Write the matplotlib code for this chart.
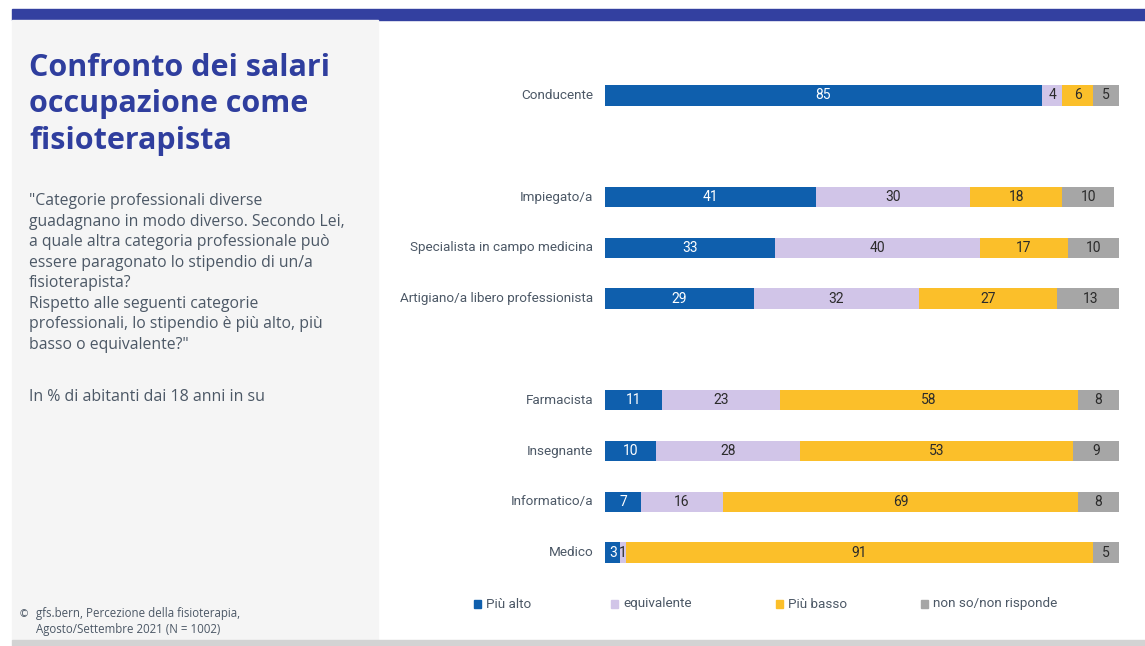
import numpy as np
import matplotlib
matplotlib.use("Agg")
import matplotlib.pyplot as plt
from matplotlib.patches import Rectangle

# survey shares in %
categories = ["Conducente", "Impiegato/a", "Specialista in campo medicina",
              "Artigiano/a libero professionista", "Farmacista", "Insegnante",
              "Informatico/a", "Medico"]
slots = [0, 2, 3, 4, 6, 7, 8, 9]
piu_alto = [85, 41, 33, 29, 11, 10, 7, 3]
equivalente = [4, 30, 40, 32, 23, 28, 16, 1]
piu_basso = [6, 18, 17, 27, 58, 53, 69, 91]
non_so = [5, 10, 10, 13, 8, 9, 8, 5]
series_names = ["Più alto", "equivalente", "Più basso", "non so/non risponde"]
colors = ["#0f5fad", "#d1c5e8", "#fbbf2a", "#a6a6a6"]
text_colors = ["white", "#2b2b2b", "#2b2b2b", "#2b2b2b"]

W, H = 1145, 646
fig = plt.figure(figsize=(W / 100, H / 100), dpi=100)
fig.patch.set_facecolor("white")

def fx(px):
    return px / W

def fy(py):
    return 1 - py / H

# frame: blue band, grey side panel, bottom rule
fig.patches.append(Rectangle((fx(12), fy(20)), fx(1145 - 12), 11 / H,
                             transform=fig.transFigure, color="#3340a0", zorder=0))
fig.patches.append(Rectangle((fx(12), fy(640)), fx(378 - 12), 620 / H,
                             transform=fig.transFigure, color="#f5f5f5", zorder=0))
fig.patches.append(Rectangle((fx(12), 0), fx(1145 - 12), 6 / H,
                             transform=fig.transFigure, color="#d3d3d3", zorder=0))

label_font = ["Roboto", "DejaVu Sans"]
txt_col = "#4c5866"

fig.text(fx(29), fy(53), "Confronto dei salari\noccupazione come\nfisioterapista",
         ha="left", va="top", fontsize=22, fontweight="bold", color="#2f3e9e",
         family="Open Sans", linespacing=1.28)

question = ('"Categorie professionali diverse\n'
            'guadagnano in modo diverso. Secondo Lei,\n'
            'a quale altra categoria professionale può\n'
            'essere paragonato lo stipendio di un/a\n'
            'fisioterapista?\n'
            'Rispetto alle seguenti categorie\n'
            'professionali, lo stipendio è più alto, più\n'
            'basso o equivalente?"')
fig.text(fx(29), fy(193), question, ha="left", va="top", fontsize=11.3,
         color=txt_col, family="Open Sans", linespacing=1.38)
fig.text(fx(29), fy(397), "In % di abitanti dai 18 anni in su", ha="left",
         va="center", fontsize=11.5, color=txt_col, family="Open Sans")
fig.text(fx(19), fy(614), "©", ha="left", va="center", fontsize=7.5,
         color=txt_col, family="DejaVu Sans")
fig.text(fx(36), fy(607), "gfs.bern, Percezione della fisioterapia,\nAgosto/Settembre 2021 (N = 1002)",
         ha="left", va="top", fontsize=8.3, color=txt_col, family="Open Sans",
         linespacing=1.25)

# stacked bars
ax = fig.add_axes([fx(605), fy(578), fx(1119 - 605), 508 / H])
ax.set_xlim(0, 100)
ax.set_ylim(9.5, -0.5)
ax.axis("off")

data = np.array([piu_alto, equivalente, piu_basso, non_so])
left = np.zeros(len(categories))
for vals, c, tc in zip(data, colors, text_colors):
    ax.barh(slots, vals, left=left, height=0.4, color=c, edgecolor="none")
    for y, l, v in zip(slots, left, vals):
        ax.text(l + v / 2, y, str(v), ha="center", va="center", fontsize=10,
                color=tc, family=label_font)
    left += vals

for y, name in zip(slots, categories):
    ax.text(-2.3, y, name, ha="right", va="center", fontsize=9.7,
            color=txt_col, family=label_font)

# legend
leg_x = [474, 611, 776, 921]
for x, name, c in zip(leg_x, series_names, colors):
    fig.patches.append(Rectangle((fx(x), fy(608)), fx(7), 8 / H,
                                 transform=fig.transFigure, color=c))
    fig.text(fx(x + 12), fy(604), name, ha="left", va="center", fontsize=9.7,
             color=txt_col, family=label_font)

fig.savefig("out.png", dpi=100)
